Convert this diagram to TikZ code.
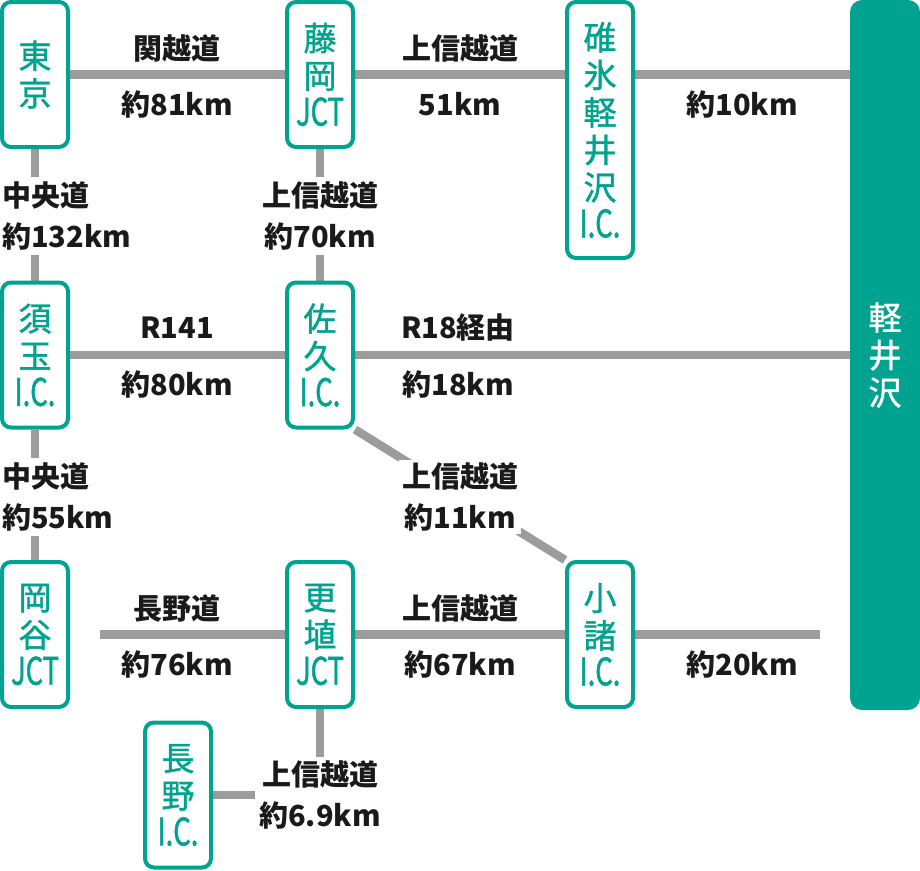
\documentclass[tikz,border=0pt]{standalone}
\usepackage{fontspec}
\setmainfont{Noto Sans CJK JP}
\newfontfamily\stationfont[FakeBold=1.2]{Noto Sans CJK JP}
\newfontfamily\narrowfont[FakeStretch=0.72,FakeBold=1.2]{Noto Sans CJK JP}
\usetikzlibrary{backgrounds}
\definecolor{tealc}{HTML}{00A38F}
\definecolor{roadgray}{HTML}{9C9C9C}
\definecolor{inkc}{HTML}{1A1A1A}
\newcommand{\jct}{{\narrowfont\fontsize{38}{37.5}\selectfont JCT}}
\newcommand{\ic}{{\narrowfont\fontsize{38}{37.5}\selectfont I.C.}}

\begin{document}
\begin{tikzpicture}[x=1pt,y=-1pt]
\tikzset{station/.style={draw=tealc,line width=4pt,rounded corners=9pt,fill=white,text=tealc,minimum width=66pt,minimum height=145pt,inner sep=0pt,align=center,font=\stationfont\fontsize{33}{37.5}\selectfont}}
\tikzset{road/.style={draw=roadgray,line width=8.5pt}}
\tikzset{dist/.style={text=inkc,inner sep=0pt,font=\bfseries\fontsize{29}{41}\selectfont}}
\tikzset{cut/.style={dist,fill=white,inner sep=5pt}}

\useasboundingbox (0,0) rectangle (920,870);

\node[station] (tokyo) at (35,74.5) {東\\京};
\node[station] (fujioka) at (320,74.5) {藤\\岡\\\jct};
\node[station,minimum height=256pt] (usui) at (600,130) {碓\\氷\\軽\\井\\沢\\\ic};
\node[fill=tealc,rounded corners=12pt,minimum width=70pt,minimum height=710pt,text=white,align=center,font=\stationfont\fontsize{33}{37.5}\selectfont] (bar) at (885,355) {軽\\井\\沢};
\node[station] (sudama) at (35,355) {須\\玉\\\ic};
\node[station] (saku) at (320,355) {佐\\久\\\ic};
\node[station] (okaya) at (35,634.5) {岡\\谷\\\jct};
\node[station] (koshoku) at (320,634.5) {更\\埴\\\jct};
\node[station] (komoro) at (600,634.5) {小\\諸\\\ic};
\node[station] (nagano) at (178,795) {長\\野\\\ic};
\coordinate (r3start) at (100,634.5);
\coordinate (r3end) at (820,634.5);

\node[dist] at (177,48) {関越道};
\node[dist] at (177,104) {約81km};
\node[dist] at (460,48) {上信越道};
\node[dist] at (460,104) {51km};
\node[dist] at (742,104) {約10km};
\node[cut,align=left,anchor=west] (l132) at (-3,216) {中央道\\約132km};
\node[cut,align=center] (l70) at (320,216) {上信越道\\約70km};
\node[dist] at (177,328) {R141};
\node[dist] at (177,384) {約80km};
\node[dist] at (458,328) {R18経由};
\node[dist] at (458,384) {約18km};
\node[cut,align=left,anchor=west] (l55) at (-3,497) {中央道\\約55km};
\node[cut,align=center,inner sep=3pt] (l11) at (460,497) {上信越道\\約11km};
\node[dist] at (177,608) {長野道};
\node[dist] at (177,664) {約76km};
\node[dist] at (460,608) {上信越道};
\node[dist] at (460,664) {約67km};
\node[dist] at (742,664) {約20km};
\node[cut,align=center,inner sep=4pt] (l69) at (320,795) {上信越道\\約6.9km};

\begin{pgfonlayer}{background}
\draw[road] (tokyo.east) -- (fujioka.west);
\draw[road] (fujioka.east) -- (fujioka.east -| usui.west);
\draw[road] (fujioka.east -| usui.east) -- (fujioka.east -| bar.west);
\draw[road] (tokyo) -- (sudama);
\draw[road] (fujioka) -- (saku);
\draw[road] (sudama.east) -- (saku.west);
\draw[road] (saku.east) -- (saku.east -| bar.west);
\draw[road] (sudama) -- (okaya);
\draw[road] (saku.south east) -- (komoro.north west);
\draw[road] (r3start) -- (koshoku.west);
\draw[road] (koshoku.east) -- (komoro.west);
\draw[road] (komoro.east) -- (r3end);
\draw[road] (koshoku.south) -- (l69.north);
\draw[road] (nagano.east) -- (l69.west);
\end{pgfonlayer}

\end{tikzpicture}
\end{document}
